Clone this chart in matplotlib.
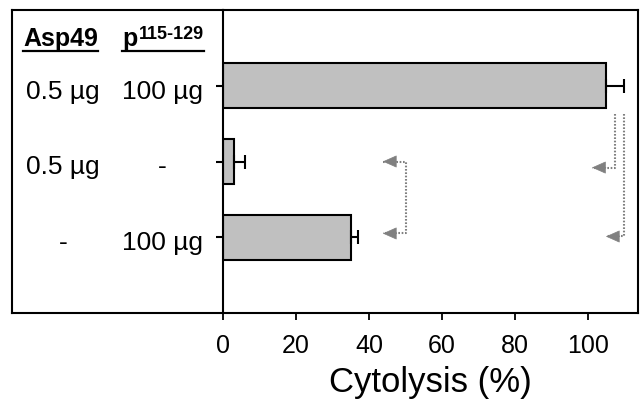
import matplotlib
matplotlib.use("Agg")
import matplotlib.pyplot as plt
from matplotlib.lines import Line2D

plt.rcParams['font.family'] = ['Liberation Sans', 'DejaVu Sans']

# data
asp49_doses = ["0.5 \u00b5g", "0.5 \u00b5g", "-"]
peptide_doses = ["100 \u00b5g", "-", "100 \u00b5g"]
cytolysis = [105, 3, 35]
cytolysis_err = [5, 3, 2]
x_ticks = [0, 20, 40, 60, 80, 100]

# comparison brackets (x path, y path, arrow at start?, arrow at end?)
brackets = [
    ([43.8, 50.1, 50.1, 43.8], [1.0, 1.0, 1.95, 1.95], True, True),
    ([107.4, 107.4, 101.1], [0.37, 1.08, 1.08], False, True),
    ([109.9, 109.9, 104.9], [0.37, 1.99, 1.99], False, True),
]

fig = plt.figure(figsize=(6.44, 4.01), dpi=100)
box = fig.add_axes([12/644, 1-313/401, (223-12)/644, (313-10)/401])
ax = fig.add_axes([223/644, 1-313/401, (638-223)/644, (313-10)/401])
ax.patch.set_visible(False)

rows = list(range(len(cytolysis)))
ax.barh(rows, cytolysis, height=0.6, color="#c0c0c0", edgecolor="black", linewidth=1.5)
ax.errorbar(cytolysis, rows, xerr=[[0]*len(rows), cytolysis_err], fmt="none",
            ecolor="black", elinewidth=1.5, capsize=5, capthick=1.5)

ax.set_xlim(0, 113.7)
ax.set_ylim(3, -1)
ax.set_xticks(x_ticks)
ax.set_yticks(rows)
ax.set_yticklabels([])
ax.tick_params(axis="x", direction="out", length=5, width=1.3, labelsize=18, pad=10)
ax.tick_params(axis="y", direction="out", length=5, width=1.5, color="black")
for s in ax.spines.values():
    s.set_linewidth(1.5)
ax.set_xlabel("Cytolysis (%)", fontsize=25, labelpad=6)

gray = "#808080"
for xs, ys, a_start, a_end in brackets:
    ax.plot(xs, ys, color=gray, lw=1.5, linestyle=(0, (0.8, 0.8)))
    ends = []
    if a_start:
        ends.append((xs[0], ys[0]))
    if a_end:
        ends.append((xs[-1], ys[-1]))
    for tx, ty in ends:
        ax.annotate("", xy=(tx, ty), xytext=(10, 0), textcoords="offset points",
                    arrowprops=dict(arrowstyle="-|>,head_length=0.9,head_width=0.4",
                                    color=gray, lw=0.5, shrinkA=0, shrinkB=0))

# left table box
box.set_xlim(0, 1)
box.set_ylim(3, -1)
box.set_xticks([])
box.set_yticks([])
box.spines["right"].set_visible(False)
for s in box.spines.values():
    s.set_linewidth(1.5)

col1, col2 = 0.242, 0.711
for r in rows:
    box.text(col1, r + 0.17, asp49_doses[r], ha="center", va="baseline", fontsize=19)
    box.text(col2, r + 0.17, peptide_doses[r], ha="center", va="baseline", fontsize=19)

h1 = box.text(0.052, -0.526, "Asp49", ha="left", va="baseline", fontsize=18, fontweight="bold")
h2 = box.text(0.521, -0.526, "p", ha="left", va="baseline", fontsize=18, fontweight="bold")
h3 = box.text(0.6, -0.618, "115-129", ha="left", va="baseline", fontsize=13, fontweight="bold")

# underline headers
fig.canvas.draw()
r = fig.canvas.get_renderer()
inv = fig.transFigure.inverted()
for start, stop in [(h1, h1), (h2, h3)]:
    b0 = start.get_window_extent(r)
    b1 = stop.get_window_extent(r)
    y_line = 401 - 51
    p0 = inv.transform((b0.x0, y_line))
    p1 = inv.transform((b1.x1, y_line))
    fig.add_artist(Line2D([p0[0], p1[0]], [p0[1], p1[1]], color="black", lw=1.6))

fig.savefig("out.png", dpi=100)
